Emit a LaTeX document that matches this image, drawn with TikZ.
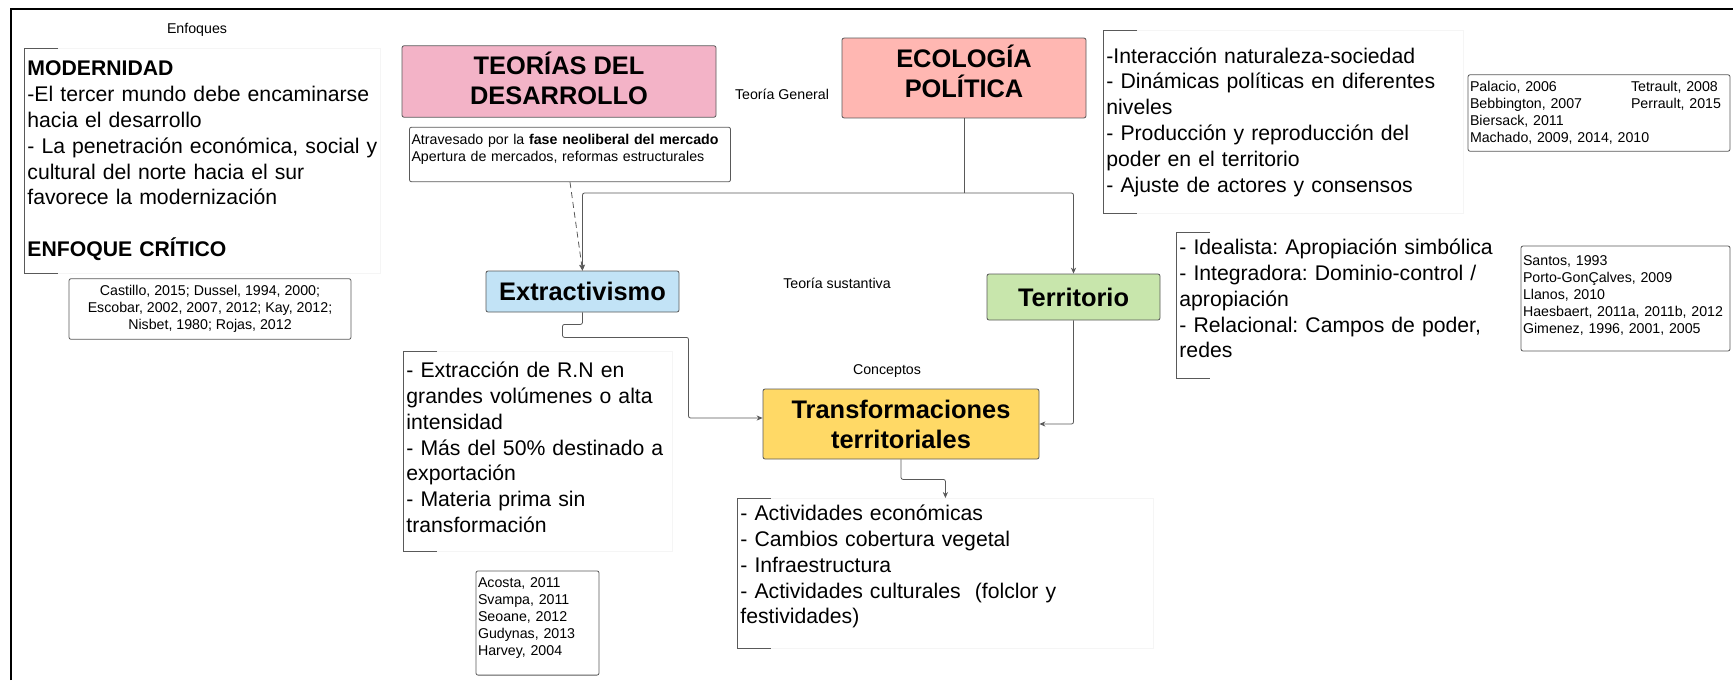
\documentclass[tikz,border=0pt]{standalone}
\usepackage{fontspec}
\setmainfont{Liberation Sans}
\usetikzlibrary{arrows.meta}
\frenchspacing
\newcommand\bodyfont{\fontsize{10.6}{12.9}\selectfont}
\newcommand\headfont{\bfseries\fontsize{12.7}{15}\selectfont}
\newcommand\smallfont{\fontsize{7.1}{8.5}\selectfont}
\newcommand\bracket[1]{\draw[black!65] ([xshift=17pt]#1.north west) -| (#1.south west) -- ++(34,0);}
\newcommand\lift[1]{\par\kern#1}
\definecolor{tdpink}{HTML}{F3B3C7}
\definecolor{epsalmon}{HTML}{FFB7B2}
\definecolor{exblue}{HTML}{C2E3F6}
\definecolor{tegreen}{HTML}{C8E6AC}
\definecolor{tryellow}{HTML}{FFD966}
\begin{document}
\begin{tikzpicture}[x=0.5pt,y=-0.5pt,
  head/.style={draw=black!65,rounded corners=1pt,font=\headfont,align=center},
  ref/.style={draw=black!65,rounded corners=1pt,font=\smallfont,align=left,inner xsep=1pt},
  note/.style={font=\smallfont},
  brk/.style={draw=black!4,anchor=north west,font=\bodyfont,align=left,inner xsep=1.5pt},
  link/.style={draw=black!65,rounded corners=1pt},
  arr/.style={link,-{Stealth[length=3pt,width=2.6pt]}}]
  \useasboundingbox (0,0) rectangle (1733,680);
  \draw[line width=1.2pt] (11,680) -- (11,9) -- (1733,9);

  \node[note] (en) at (197,30) {Enfoques};
  \node[brk,text width=175pt,minimum height=112.5pt] (mo) at (24,48)
    {\textbf{MODERNIDAD}\\-El tercer mundo debe encaminarse\\hacia el desarrollo\\- La penetración económica, social y\\cultural del norte hacia el sur\\favorece la modernización\\[12.9pt]\textbf{ENFOQUE CRÍTICO}};
  \bracket{mo}
  \node[ref,align=center,minimum width=141pt,minimum height=29pt] (ca) at (210,309)
    {Castillo, 2015; Dussel, 1994, 2000;\\Escobar, 2002, 2007, 2012; Kay, 2012;\\Nisbet, 1980; Rojas, 2012};

  \node[head,fill=tdpink,minimum width=157pt,minimum height=32.5pt,text depth=2.8pt] (td) at (559,81.5) {TEORÍAS DEL\\DESARROLLO};
  \node[note] (tg) at (782,94) {Teoría General};
  \node[head,fill=epsalmon,minimum width=122pt,minimum height=36pt,text depth=7pt] (ep) at (964,78) {ECOLOGÍA\\POLÍTICA};
  \node[ref,text width=158.5pt,minimum height=22.5pt] (at) at (570,154.5)
    {Atravesado por la \textbf{fase neoliberal del mercado}\\Apertura de mercados, reformas estructurales\lift{5.5pt}};

  \node[brk,text width=177pt,minimum height=91.5pt] (ed) at (1103,30)
    {-Interacción naturaleza-sociedad\\- Dinámicas políticas en diferentes\\niveles\\- Producción y reproducción del\\poder en el territorio\\- Ajuste de actores y consensos};
  \bracket{ed}
  \node[ref,text width=129pt,minimum height=36pt] (pa) at (1599,113)
    {\makebox[80.5pt][l]{Palacio, 2006}Tetrault, 2008\\\makebox[80.5pt][l]{Bebbington, 2007}Perrault, 2015\\Biersack, 2011\\Machado, 2009, 2014, 2010};

  \node[head,fill=exblue,minimum width=96.5pt,minimum height=20.5pt] (ex) at (582.5,291.5) {Extractivismo};
  \node[note] (ts) at (837,283) {Teoría sustantiva};
  \node[head,fill=tegreen,minimum width=86.5pt,minimum height=23pt] (te) at (1073.5,297) {Territorio};
  \node[brk,draw=none,text width=165pt,minimum height=72pt] (tt) at (1176,232)
    {- Idealista: Apropiación simbólica\\- Integradora: Dominio-control /\\apropiación\\- Relacional: Campos de poder,\\redes\lift{6.5pt}};
  \bracket{tt}
  \node[ref,text width=102.5pt,minimum height=52.5pt] (sa) at (1625.5,298.5)
    {Santos, 1993\\Porto-GonÇalves, 2009\\Llanos, 2010\\Haesbaert, 2011a, 2011b, 2012\\Gimenez, 1996, 2001, 2005\lift{3pt}};

  \node[brk,text width=131.5pt,minimum height=100pt] (xt) at (403,351)
    {- Extracción de R.N en\\grandes volúmenes o alta\\intensidad\\- Más del 50\% destinado a\\exportación\\- Materia prima sin\\transformación\lift{4pt}};
  \bracket{xt}
  \node[ref,text width=59.5pt,minimum height=48pt] (ac) at (537.5,623)
    {Acosta, 2011\\Svampa, 2011\\Seoane, 2012\\Gudynas, 2013\\Harvey, 2004\lift{5pt}};

  \node[note] (co) at (887,371) {Conceptos};
  \node[head,fill=tryellow,minimum width=138pt,minimum height=35pt] (tr) at (901,424) {Transformaciones\\territoriales};
  \node[brk,text width=205pt,minimum height=70.5pt] (tx) at (737,498)
    {- Actividades económicas\\- Cambios cobertura vegetal\\- Infraestructura\\- Actividades culturales~ (folclor y\\festividades)\lift{6.5pt}};
  \bracket{tx}

  \coordinate (j) at (964,193);
  \draw[link] (ep.south) -- (j);
  \draw[arr] (j) -| (ex.north);
  \draw[arr] (j) -| (te.north);
  \draw[arr,dash pattern=on 3pt off 2pt] (at.south) -- (ex.north);
  \draw[arr] (ex.south) -- ++(0,12) -- ++(-20,0) -- ++(0,13) -- ++(126,0) |- ([yshift=3pt]tr.west);
  \draw[arr] (te.south) |- (tr.east);
  \draw[arr] (tr.south) -- ++(0,20) -| (tx.north);
\end{tikzpicture}
\end{document}
